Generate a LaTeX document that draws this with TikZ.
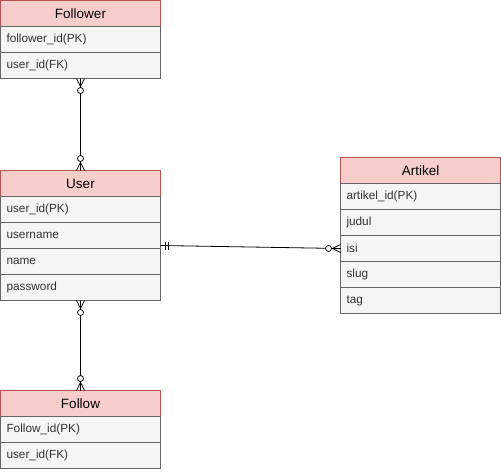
\documentclass[tikz,border=0pt]{standalone}
\usepackage{fontspec}
\setmainfont{Liberation Sans}
\usetikzlibrary{calc}
\definecolor{hdrfill}{HTML}{F8CECC}
\definecolor{hdrdraw}{HTML}{B85450}
\definecolor{rowfill}{HTML}{F5F5F5}
\definecolor{rowdraw}{HTML}{666666}
\definecolor{rowtext}{HTML}{333333}
\begin{document}
\begin{tikzpicture}[x=1pt,y=-1pt,
 hdr/.style={draw=hdrdraw, fill=hdrfill, minimum width=160pt, minimum height=26pt, inner sep=0pt, outer sep=0pt, anchor=north west, font=\fontsize{13.5}{16}\selectfont, line width=0.8pt},
 row/.style={draw=rowdraw, fill=rowfill, text=rowtext, text width=148pt, inner xsep=6pt, inner ysep=0pt, outer sep=0pt, minimum height=26pt, align=left, anchor=north west, font=\fontsize{11.8}{14}\selectfont, line width=0.8pt},
 rel/.style={line width=0.8pt, draw=black},
 zm/.pic={\draw[rel] (-4,0) -- (0,8) -- (4,0) (0,0) -- (0,8);
          \draw[rel,fill=white] (0,12) circle (3pt);}
]
\useasboundingbox (0,0) rectangle (501,472);
% Follower
\node[hdr] (fh) at (0.5,0.5) {Follower};
\node[row] (f1) at (fh.south west) {follower\_id(PK)};
\node[row] (f2) at (f1.south west) {user\_id(FK)};
% User
\node[hdr] (uh) at (0.5,170.5) {User};
\node[row] (uid) at (uh.south west) {user\_id(PK)};
\node[row] (uname) at (uid.south west) {username};
\node[row] (unm) at (uname.south west) {name};
\node[row] (upw) at (unm.south west) {password};
% Follow
\node[hdr] (wh) at (0.5,390.5) {Follow};
\node[row] (w1) at (wh.south west) {Follow\_id(PK)};
\node[row] (w2) at (w1.south west) {user\_id(FK)};
% Artikel
\node[hdr] (ah) at (340.5,157.5) {Artikel};
\node[row] (a1) at (ah.south west) {artikel\_id(PK)};
\node[row] (a2) at (a1.south west) {judul};
\node[row] (isi) at (a2.south west) {isi};
\node[row] (a4) at (isi.south west) {slug};
\node[row] (a5) at (a4.south west) {tag};
% connectors
\draw[rel] (f2.south) -- (uh.north);
\pic at (f2.south) {zm};
\pic[rotate=180] at (uh.north) {zm};
\draw[rel] (upw.south) -- (wh.north);
\pic at (upw.south) {zm};
\pic[rotate=180] at (wh.north) {zm};
\coordinate (ua) at ($(uname.south east)+(0,-3)$);
\draw[rel] (ua) -- (isi.west);
\pic[rotate=-90] at (isi.west) {zm};
\draw[rel] ($(ua)+(5,-4)$) -- ++(0,8) ($(ua)+(8,-4)$) -- ++(0,8);
\end{tikzpicture}
\end{document}
